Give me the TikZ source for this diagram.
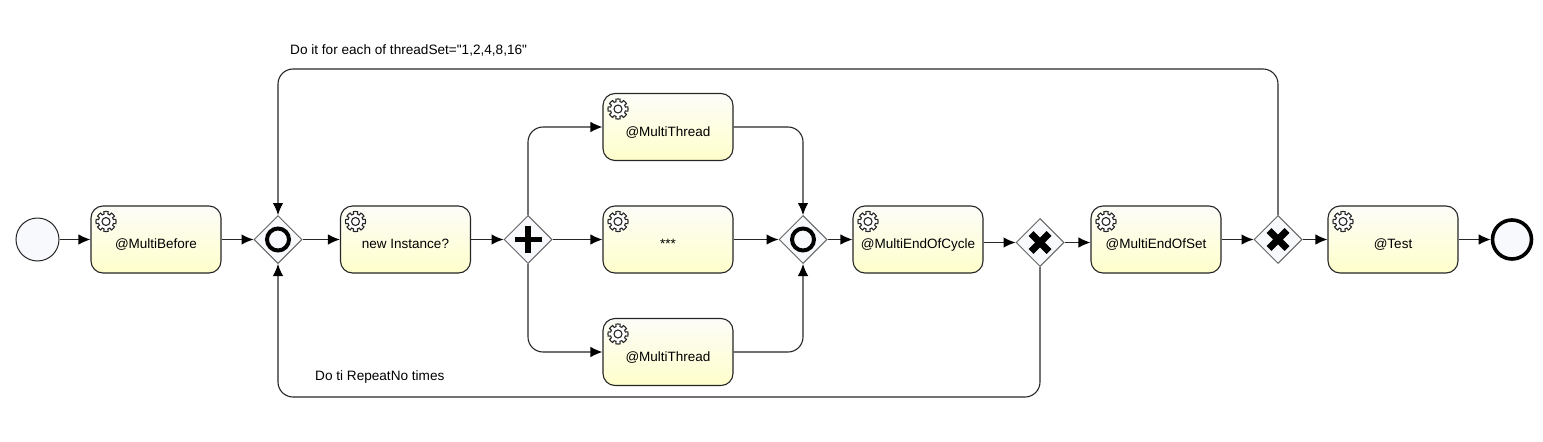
\documentclass[tikz,border=0pt]{standalone}
\usepackage{fontspec}
\setmainfont{Liberation Sans}
\newfontfamily\notefont{Liberation Sans}
\usetikzlibrary{shapes.geometric,arrows.meta}
\definecolor{lineC}{HTML}{262626}
\definecolor{gwfill}{HTML}{F8F9FD}
\definecolor{taskTop}{HTML}{FDFDF9}
\definecolor{taskBot}{HTML}{FEFECB}
\tikzset{
  taskbox/.style={draw=lineC,line width=1.1pt,rounded corners=12pt,minimum width=130pt,minimum height=67pt,
    inner sep=0pt,top color=taskTop,bottom color=taskBot,font=\fontsize{13.5pt}{15pt}\selectfont,text=black,text height=19pt,text depth=1pt},
  gateway/.style={diamond,aspect=1,draw=black!60,line width=1pt,fill=gwfill,minimum width=48pt,minimum height=48pt,inner sep=0pt},
  startev/.style={circle,draw=lineC,line width=1pt,fill=gwfill,minimum size=43pt,inner sep=0pt},
  endev/.style={circle,draw=black,line width=3.6pt,fill=gwfill,minimum size=39pt,inner sep=0pt},
  flow/.style={draw=lineC,line width=1.1pt,rounded corners=15pt,-{Latex[length=12pt,width=10.5pt,black]}},
  note/.style={font=\notefont\fontsize{13.6pt}{15pt}\selectfont,anchor=west,inner sep=0pt},
  gearpic/.pic={
    \draw[fill=white,draw=black!85,line width=1.1pt] plot[domain=0:360,samples=145] (\x:{cos(8*\x)>-0.2 ? 10 : 7.6}) -- cycle;
    \draw[draw=black!85,line width=1.1pt] (0,0) circle (4);
  },
  ringmark/.pic={\draw[line width=4pt,black] (0,0) circle (11);},
  plusmark/.pic={\draw[line width=5.5pt,black] (-13.5,0) -- (13.5,0) (0,-13.5) -- (0,13.5);},
  crossmark/.pic={\draw[line width=7pt,black] (-9,-9) -- (9,9) (-9,9) -- (9,-9);}
}
\newcommand{\mytask}[4]{%
  \node[taskbox] (#1) at (#2,#3) {#4};
  \pic at ([shift={(-50,-18)}]#1.center) {gearpic};
}
\begin{document}
\begin{tikzpicture}[x=1pt,y=-1pt]
\useasboundingbox (0,0) rectangle (1543,442);
\coordinate (toplev) at (0,69);
\coordinate (botlev) at (0,397);

\node[startev] (s) at (37.5,239.5) {};
\mytask{t1}{156}{239.5}{@MultiBefore}
\node[gateway] (g1) at (278,239.5) {}; \pic at (g1.center) {ringmark};
\mytask{t2}{405.5}{239.5}{new Instance?}
\node[gateway] (g2) at (528,239.5) {}; \pic at (g2.center) {plusmark};
\mytask{t3}{668}{127}{@MultiThread}
\mytask{t4}{668}{239.5}{***}
\mytask{t5}{668}{352}{@MultiThread}
\node[gateway] (g3) at (803,239.5) {}; \pic at (g3.center) {ringmark};
\mytask{t6}{918}{239.5}{@MultiEndOfCycle}
\node[gateway] (g4) at (1040,242.5) {}; \pic at (g4.center) {crossmark};
\mytask{t7}{1156}{239.5}{@MultiEndOfSet}
\node[gateway] (g5) at (1278,239.5) {}; \pic at (g5.center) {crossmark};
\mytask{t8}{1393}{239.5}{@Test}
\node[endev] (e) at (1512,239.5) {};

\node[note] (n1) at (290,50.5) {Do it for each of threadSet="1,2,4,8,16"};
\node[note] (n2) at (315,377) {Do ti RepeatNo times};

\draw[flow] (s) -- (t1);
\draw[flow] (t1) -- (g1.west);
\draw[flow] (g1.east) -- (t2);
\draw[flow] (t2) -- (g2.west);
\draw[flow] (g2.east) -- (t4);
\draw[flow] (g2.north) |- (t3.west);
\draw[flow] (g2.south) |- (t5.west);
\draw[flow] (t4) -- (g3.west);
\draw[flow] (t3.east) -| (g3.north);
\draw[flow] (t5.east) -| (g3.south);
\draw[flow] (g3.east) -- (t6);
\draw[flow] (t6.east |- g4.west) -- (g4.west);
\draw[flow] (g4.east) -- (t7.west |- g4.east);
\draw[flow] (t7) -- (g5.west);
\draw[flow] (g5.east) -- (t8);
\draw[flow] (t8) -- (e);
\draw[flow] (g5.north) -- (g5.north |- toplev) -- (g1.north |- toplev) -- (g1.north);
\draw[flow] (g4.south) -- (g4.south |- botlev) -- (g1.south |- botlev) -- (g1.south);
\end{tikzpicture}
\end{document}
